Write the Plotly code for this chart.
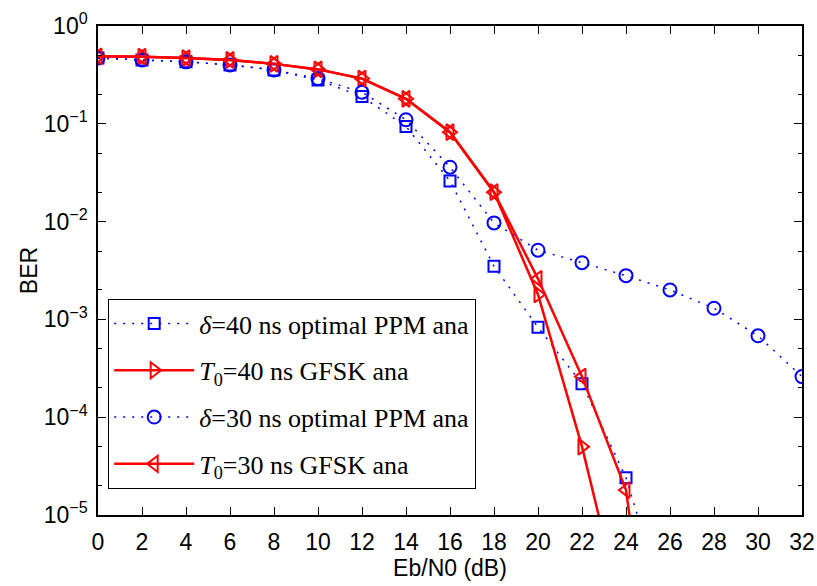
import plotly.graph_objects as go

# ---- data ----
ebn0_ppm40 = [0, 2, 4, 6, 8, 10, 12, 14, 16, 18, 20, 22, 24, 26]
ber_ppm40 = [0.47, 0.45, 0.43, 0.40, 0.355, 0.28, 0.19, 0.094, 0.026, 0.0035,
             0.00083, 0.00022, 2.4e-5, 8e-7]

ebn0_gfsk40 = [0, 2, 4, 6, 8, 10, 12, 14, 16, 18, 20, 22, 24]
ber_gfsk40 = [0.49, 0.485, 0.47, 0.45, 0.41, 0.36, 0.29, 0.18, 0.082, 0.020,
              0.0018, 5e-5, 7e-7]

ebn0_ppm30 = [0, 2, 4, 6, 8, 10, 12, 14, 16, 18, 20, 22, 24, 26, 28, 30, 32]
ber_ppm30 = [0.47, 0.45, 0.43, 0.40, 0.355, 0.29, 0.21, 0.11, 0.036, 0.0097,
             0.0051, 0.0038, 0.0028, 0.0020, 0.0013, 0.00068, 0.00026]

ebn0_gfsk30 = [0, 2, 4, 6, 8, 10, 12, 14, 16, 18, 20, 22, 24, 26]
ber_gfsk30 = [0.49, 0.485, 0.47, 0.45, 0.41, 0.36, 0.29, 0.18, 0.082, 0.020,
              0.0026, 0.00026, 1.8e-5, 1e-8]

names = ["<i>δ</i>=40 ns optimal PPM ana",
         "<i>T</i><sub>0</sub>=40 ns GFSK ana",
         "<i>δ</i>=30 ns optimal PPM ana",
         "<i>T</i><sub>0</sub>=30 ns GFSK ana"]

x_ticks = list(range(0, 33, 2))
y_tickvals = [1, 0.1, 0.01, 0.001, 0.0001, 0.00001]
y_ticktext = ["10<sup>0</sup>", "10<sup>−1</sup>", "10<sup>−2</sup>",
              "10<sup>−3</sup>", "10<sup>−4</sup>", "10<sup>−5</sup>"]

BLUE = "#0000FF"
RED = "#FF0000"

fig = go.Figure()
fig.add_trace(go.Scatter(
    x=ebn0_ppm40, y=ber_ppm40, name=names[0], legendgroup="a", mode="lines+markers",
    line=dict(color=BLUE, width=1.5, dash="2px,7px"),
    marker=dict(symbol="square-open", size=11, color=BLUE, line=dict(width=2, color=BLUE))))
fig.add_trace(go.Scatter(
    x=ebn0_gfsk40, y=ber_gfsk40, name=names[1], legendgroup="b", mode="lines+markers",
    line=dict(color=RED, width=2.5),
    marker=dict(symbol="triangle-right-open", size=14, color=RED, line=dict(width=2, color=RED))))
fig.add_trace(go.Scatter(
    x=ebn0_ppm30, y=ber_ppm30, name=names[2], legendgroup="c", mode="lines+markers",
    line=dict(color=BLUE, width=1.5, dash="2px,7px"),
    marker=dict(symbol="circle-open", size=13, color=BLUE, line=dict(width=2, color=BLUE))))
fig.add_trace(go.Scatter(
    x=ebn0_gfsk30, y=ber_gfsk30, name=names[3], legendgroup="d", mode="lines+markers",
    line=dict(color=RED, width=2.5),
    marker=dict(symbol="triangle-left-open", size=14, color=RED, line=dict(width=2, color=RED))))

axis_font = dict(family="Liberation Sans, Arial, sans-serif", size=23, color="black")

fig.update_layout(
    width=817, height=586,
    margin=dict(l=98, r=15, t=26, b=71),
    paper_bgcolor="white", plot_bgcolor="white",
    font=axis_font,
    showlegend=True,
    legend=dict(
        x=0.0142, y=0.442, xanchor="left", yanchor="top",
        bgcolor="white", bordercolor="black", borderwidth=1.2,
        font=dict(family="Liberation Serif, Times New Roman, serif", size=26, color="black"),
        traceorder="grouped", tracegroupgap=10, itemwidth=80,
    ),
    xaxis=dict(
        range=[0, 32], tickvals=x_ticks, ticktext=[str(v) for v in x_ticks],
        ticks="inside", ticklen=8, tickwidth=1, tickcolor="black",
        showline=True, linecolor="black", linewidth=1.5, mirror="ticks",
        showgrid=False, zeroline=False, automargin=False,
        ticklabelstandoff=6,
        title=dict(text="Eb/N0 (dB)", font=axis_font, standoff=6),
        tickfont=axis_font,
    ),
    yaxis=dict(
        type="log", range=[-5, 0], tickvals=y_tickvals, ticktext=y_ticktext,
        ticks="inside", ticklen=8, tickwidth=1, tickcolor="black",
        showline=True, linecolor="black", linewidth=1.5, mirror="ticks",
        showgrid=False, zeroline=False, automargin=False,
        ticklabelstandoff=4,
        minor=dict(ticks="inside", ticklen=4, tickcolor="black", showgrid=False),
        title=dict(text="BER", font=axis_font, standoff=0),
        tickfont=axis_font,
    ),
)

# remove the browser's default 8px page margin so the figure fills the window exactly
fig.write_html("out.html",
               config={"displayModeBar": False},
               post_script="document.body.style.margin='0';document.body.style.overflow='hidden';")
